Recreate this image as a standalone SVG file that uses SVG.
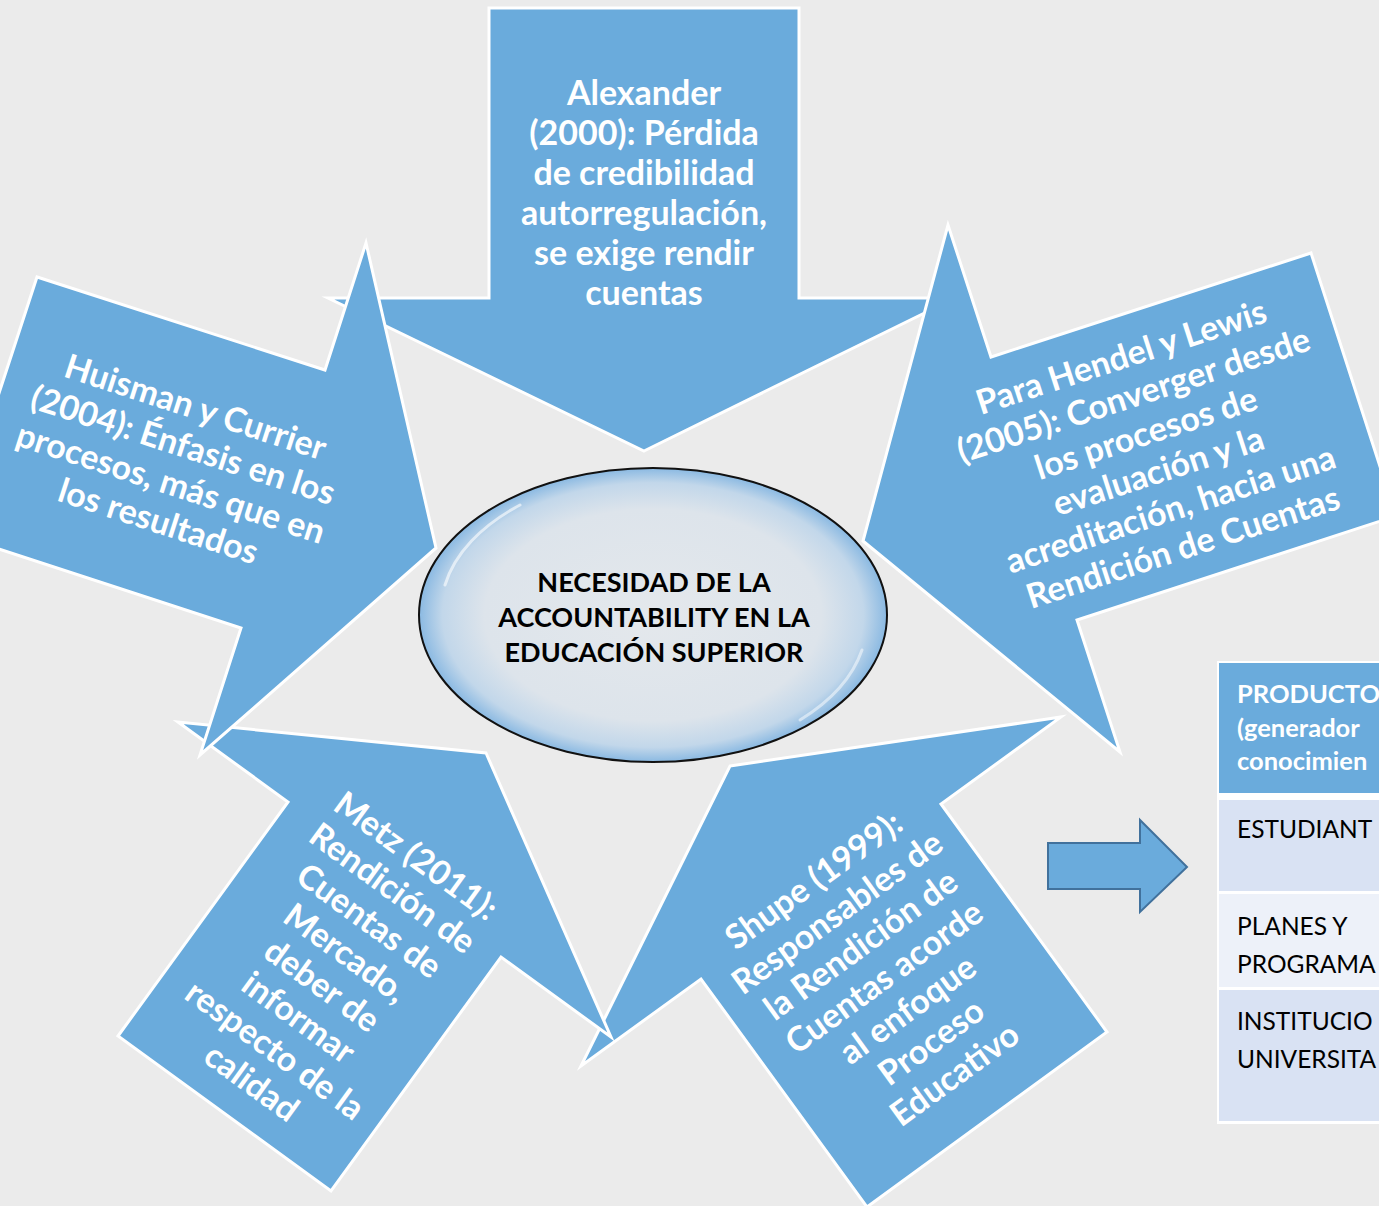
<svg xmlns="http://www.w3.org/2000/svg" width="1379" height="1206" viewBox="0 0 1379 1206">
<defs>
<style>
.arrow{fill:#6aabdc;stroke:#ffffff;stroke-width:3;stroke-linejoin:miter;stroke-miterlimit:10}
.atext{font-family:Lato,"Open Sans","Liberation Sans",sans-serif;font-weight:700;font-size:34px;fill:#ffffff;text-anchor:middle}
.ctext{font-family:Lato,"Open Sans","Liberation Sans",sans-serif;font-weight:700;font-size:27px;fill:#000000;text-anchor:middle}
.htext{font-family:Lato,"Open Sans","Liberation Sans",sans-serif;font-weight:700;font-size:25.5px;fill:#ffffff}
.rtext{font-family:Lato,"Open Sans","Liberation Sans",sans-serif;font-weight:400;font-size:24.5px;fill:#000000}
</style>
<radialGradient id="eg" cx="50%" cy="50%" r="50%">
<stop offset="0" stop-color="#e4e8ec"/>
<stop offset="0.72" stop-color="#dde4eb"/>
<stop offset="0.9" stop-color="#c2d7ea"/>
<stop offset="1" stop-color="#8ab9e2"/>
</radialGradient>
</defs>
<rect x="0" y="0" width="1379" height="1206" fill="#ebebeb"/>

<g id="arrow-alexander">
<polygon class="arrow" points="644,451 955,298 799,298 799,8 489,8 489,298 328,298"/>
<text class="atext"><tspan x="644" y="105">Alexander</tspan><tspan x="644" y="145">(2000): Pérdida</tspan><tspan x="644" y="185">de credibilidad</tspan><tspan x="644" y="225">autorregulación,</tspan><tspan x="644" y="265">se exige rendir</tspan><tspan x="644" y="305">cuentas</tspan></text>
</g>

<g id="arrow-shupe">
<polygon class="arrow" points="730,766 1061,717 941,804 1107,1032 867,1207 701,979 581,1066"/>
<text class="atext" transform="rotate(-36 884 977)"><tspan x="884" y="869">Shupe (1999):</tspan><tspan x="884" y="909">Responsables de</tspan><tspan x="884" y="949">la Rendición de</tspan><tspan x="884" y="989">Cuentas acorde</tspan><tspan x="884" y="1029">al enfoque</tspan><tspan x="884" y="1069">Proceso</tspan><tspan x="884" y="1109">Educativo</tspan></text>
</g>

<g id="arrow-hendel">
<polygon class="arrow" points="863,541 1120,752 1077,620 1396,516 1311,253 991,357 948,225"/>
<text class="atext" transform="rotate(-18 1152 452)"><tspan x="1152" y="364">Para Hendel y Lewis</tspan><tspan x="1152" y="404">(2005): Converger desde</tspan><tspan x="1152" y="444">los procesos de</tspan><tspan x="1152" y="484">evaluación y la</tspan><tspan x="1152" y="524">acreditación, hacia una</tspan><tspan x="1152" y="564">Rendición de Cuentas</tspan></text>
</g>

<g id="arrow-metz">
<polygon class="arrow" points="486,753 611,1037 501,957 331,1191 118,1036 288,802 178,722"/>
<text class="atext" transform="rotate(36 334 969)"><tspan x="334" y="841">Metz (2011):</tspan><tspan x="334" y="881">Rendición de</tspan><tspan x="334" y="921">Cuentas de</tspan><tspan x="334" y="961">Mercado,</tspan><tspan x="334" y="1001">deber de</tspan><tspan x="334" y="1041">informar</tspan><tspan x="334" y="1081">respecto de la</tspan><tspan x="334" y="1121">calidad</tspan></text>
</g>

<g id="arrow-huisman">
<polygon class="arrow" points="436,548 200,755 241,628 -47,534 37,277 325,370 366,243"/>
<text class="atext" transform="rotate(18 177 464)"><tspan x="177" y="416">Huisman y Currier</tspan><tspan x="177" y="456">(2004): Énfasis en los</tspan><tspan x="177" y="496">procesos, más que en</tspan><tspan x="177" y="536">los resultados</tspan></text>
</g>

<g id="center">
<ellipse cx="653" cy="615" rx="234" ry="147" fill="url(#eg)" stroke="#111111" stroke-width="2"/>
<path d="M445,585 A228,140 0 0 1 520,505" fill="none" stroke="#ffffff" stroke-opacity="0.6" stroke-width="3" stroke-linecap="round"/>
<path d="M862,650 A228,140 0 0 1 800,720" fill="none" stroke="#ffffff" stroke-opacity="0.5" stroke-width="3" stroke-linecap="round"/>
<text class="ctext"><tspan x="654" y="592">NECESIDAD DE LA</tspan><tspan x="654" y="627">ACCOUNTABILITY EN LA</tspan><tspan x="654" y="662">EDUCACIÓN SUPERIOR</tspan></text>
</g>

<g id="connectors">
<path id="right-arrow" d="M1048,843 H1140 V820 L1187,867 L1140,912 V889 H1048 Z" fill="#6aabdc" stroke="#41719c" stroke-width="2"/>
</g>

<g id="table">
<rect x="1217" y="661" width="200" height="463" fill="#ffffff"/>
<rect x="1219" y="663" width="200" height="130" fill="#6aabdc"/>
<rect x="1219" y="800" width="200" height="91" fill="#d9e2f3"/>
<rect x="1219" y="894" width="200" height="93" fill="#edf1f9"/>
<rect x="1219" y="990" width="200" height="131" fill="#d9e2f3"/>
<text class="htext" x="1237" y="703">PRODUCTO</text>
<text class="htext" x="1237" y="737">(generador</text>
<text class="htext" x="1237" y="770">conocimien</text>
<text class="rtext" x="1237" y="838">ESTUDIANT</text>
<text class="rtext" x="1237" y="935">PLANES Y</text>
<text class="rtext" x="1237" y="973">PROGRAMA</text>
<text class="rtext" x="1237" y="1030">INSTITUCIO</text>
<text class="rtext" x="1237" y="1068">UNIVERSITA</text>
</g>
</svg>
